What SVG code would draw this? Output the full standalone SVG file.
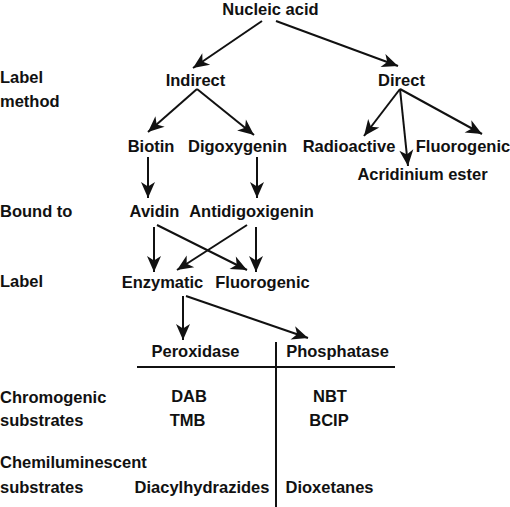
<svg xmlns="http://www.w3.org/2000/svg" width="510" height="507" viewBox="0 0 510 507">
<style>
text{font-family:"Liberation Sans",Arial,sans-serif;font-weight:bold;font-size:16.5px;fill:#111}
.c{text-anchor:middle}
.l{stroke:#111;stroke-width:2;fill:none}
.a{marker-end:url(#ah)}
</style>
<defs>
<marker id="ah" markerUnits="userSpaceOnUse" markerWidth="20" markerHeight="20" viewBox="-18 -9 20 18" refX="0" refY="0" orient="auto">
<path d="M0,0 L-16,-7 L-11.5,0 L-16,7 Z" fill="#111"/>
</marker>
</defs>
<rect width="510" height="507" fill="#fff"/>
<g id="connectors">
<line class="l a" x1="262" y1="21" x2="193" y2="68"/>
<line class="l a" x1="276" y1="21" x2="398" y2="66"/>
<line class="l a" x1="197" y1="89" x2="148" y2="132"/>
<line class="l a" x1="197" y1="89" x2="254" y2="135"/>
<line class="l a" x1="400" y1="89" x2="364" y2="136"/>
<line class="l a" x1="400" y1="89" x2="408" y2="166"/>
<line class="l a" x1="400" y1="89" x2="482" y2="134"/>
<line class="l a" x1="148" y1="157" x2="148" y2="198"/>
<line class="l a" x1="257" y1="157" x2="257" y2="198"/>
<line class="l a" x1="154" y1="227" x2="154" y2="272"/>
<line class="l a" x1="157" y1="225" x2="247" y2="270"/>
<line class="l a" x1="247" y1="225" x2="177" y2="270"/>
<line class="l a" x1="256" y1="227" x2="256" y2="272"/>
<line class="l a" x1="183" y1="296" x2="183" y2="340"/>
<line class="l a" x1="186" y1="296" x2="308" y2="338"/>
<line class="l" x1="137" y1="367" x2="395" y2="367"/>
<line class="l" x1="276" y1="342" x2="276" y2="507"/>
</g>
<g id="labels-left">
<text x="0" y="83">Label</text>
<text x="0" y="107">method</text>
<text x="0" y="217">Bound to</text>
<text x="0" y="287">Label</text>
<text x="0" y="403">Chromogenic</text>
<text x="0" y="426">substrates</text>
<text x="0" y="468">Chemiluminescent</text>
<text x="0" y="493">substrates</text>
</g>
<g id="n-nucleic"><text class="c" x="270.5" y="15">Nucleic acid</text></g>
<g id="n-indirect"><text class="c" x="195.5" y="86">Indirect</text></g>
<g id="n-direct"><text class="c" x="401.5" y="86">Direct</text></g>
<g id="n-biotin"><text class="c" x="151" y="152">Biotin</text></g>
<g id="n-digoxygenin"><text class="c" x="237.5" y="152">Digoxygenin</text></g>
<g id="n-radioactive"><text class="c" x="349" y="152">Radioactive</text></g>
<g id="n-fluorogenic1"><text class="c" x="463" y="152">Fluorogenic</text></g>
<g id="n-acridinium"><text class="c" x="422.5" y="180">Acridinium ester</text></g>
<g id="n-avidin"><text class="c" x="154.5" y="217">Avidin</text></g>
<g id="n-antidig"><text class="c" x="251.5" y="217">Antidigoxigenin</text></g>
<g id="n-enzymatic"><text class="c" x="162.5" y="288">Enzymatic</text></g>
<g id="n-fluorogenic2"><text class="c" x="262.5" y="288">Fluorogenic</text></g>
<g id="n-peroxidase"><text class="c" x="195.5" y="357">Peroxidase</text></g>
<g id="n-phosphatase"><text class="c" x="337.5" y="357">Phosphatase</text></g>
<g id="table">
<text class="c" x="189" y="402">DAB</text>
<text class="c" x="330" y="402">NBT</text>
<text class="c" x="187.5" y="426">TMB</text>
<text class="c" x="329" y="426">BCIP</text>
<text class="c" x="202" y="493">Diacylhydrazides</text>
<text class="c" x="329.5" y="493">Dioxetanes</text>
</g>
</svg>
